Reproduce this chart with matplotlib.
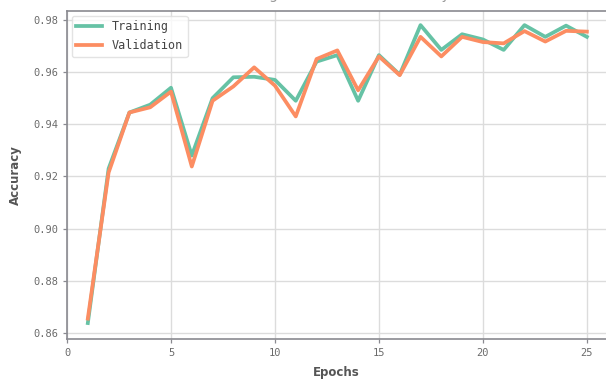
import matplotlib
matplotlib.use("Agg")
import matplotlib.pyplot as plt

epochs = list(range(1, 26))
train_acc = [0.8638, 0.9230, 0.9445, 0.9475, 0.9540, 0.9280, 0.9500, 0.9580, 0.9582, 0.9570,
             0.9490, 0.9640, 0.9665, 0.9490, 0.9665, 0.9590, 0.9780, 0.9685, 0.9745, 0.9725,
             0.9685, 0.9780, 0.9735, 0.9778, 0.9735]
val_acc = [0.8655, 0.9215, 0.9445, 0.9465, 0.9525, 0.9238, 0.9490, 0.9545, 0.9618, 0.9548,
           0.9430, 0.9650, 0.9683, 0.9530, 0.9660, 0.9588, 0.9735, 0.9660, 0.9735, 0.9715,
           0.9710, 0.9757, 0.9717, 0.9758, 0.9755]

mono = "DejaVu Sans Mono"
tick_color = "#6b6b6b"
spine_color = "#8a8a90"

fig = plt.figure(figsize=(6.06, 3.80), dpi=100)
ax = fig.add_axes([0.1106, 0.108, 0.8894, 0.863])

ax.plot(epochs, train_acc, color="#66c2a5", lw=2.7, label="Training")
ax.plot(epochs, val_acc, color="#fc8d62", lw=2.7, label="Validation")

ax.set_xlim(0, 25.92)
ax.set_ylim(0.8577, 0.9834)
ax.set_xticks([0, 5, 10, 15, 20, 25])
ax.set_yticks([0.86, 0.88, 0.90, 0.92, 0.94, 0.96, 0.98])
ax.set_yticklabels(["%.2f" % v for v in ax.get_yticks()])

ax.grid(True, color="#dcdcdc", lw=1.0)
ax.set_axisbelow(True)
for side in ["left", "bottom", "top"]:
    ax.spines[side].set_color(spine_color)
    ax.spines[side].set_linewidth(1.2)
ax.spines["right"].set_visible(False)

ax.tick_params(colors=spine_color, labelcolor=tick_color, labelsize=7.5, length=3, width=0.9)
for lab in ax.get_xticklabels() + ax.get_yticklabels():
    lab.set_fontfamily(mono)

ax.set_xlabel("Epochs", fontsize=8.5, color="#555555", fontweight="bold", labelpad=6)
ax.set_ylabel("Accuracy", fontsize=8.5, color="#555555", fontweight="bold", labelpad=8)
ax.set_title("Training and Validation Accuracy", fontsize=10, color="#999999", pad=9)

leg = ax.legend(loc="upper left", prop={"family": mono, "size": 8.5}, frameon=True,
                handlelength=2.2, borderaxespad=0.4)
leg.get_frame().set_edgecolor("#dddddd")
for t in leg.get_texts():
    t.set_color("#444444")

fig.savefig("out.png", dpi=100)
